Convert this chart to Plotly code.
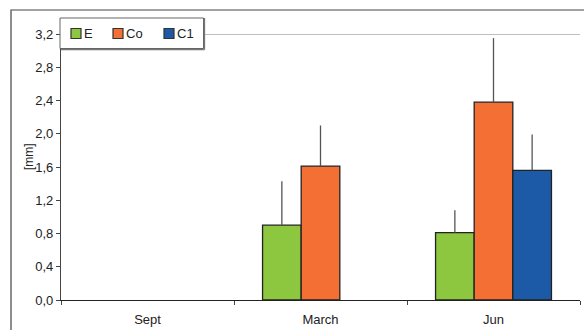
import plotly.graph_objects as go

categories = ["Sept", "March", "Jun"]
series_names = ["E", "Co", "C1"]
values_E = [None, 0.90, 0.81]
values_Co = [None, 1.61, 2.38]
values_C1 = [None, None, 1.56]
err_E = [0, 0.53, 0.27]
err_Co = [0, 0.49, 0.77]
err_C1 = [0, 0, 0.43]
colors = ["#8DC63F", "#F36F34", "#1C5AA7"]
y_ticks = [0.0, 0.4, 0.8, 1.2, 1.6, 2.0, 2.4, 2.8, 3.2]
y_tick_labels = ["0,0", "0,4", "0,8", "1,2", "1,6", "2,0", "2,4", "2,8", "3,2"]

W, H = 584, 330
ML, MR, MT, MB = 61, 4, 34, 30
PW, PH = W - ML - MR, H - MT - MB


def px(x):
    return (x - ML) / PW


def py(y):
    return (H - MB - y) / PH


fig = go.Figure()
for name, vals, errs, col in zip(series_names, [values_E, values_Co, values_C1],
                                 [err_E, err_Co, err_C1], colors):
    fig.add_trace(go.Bar(
        x=categories, y=vals, name=name, showlegend=False,
        marker=dict(color=col, line=dict(color="#222222", width=1.3)),
        error_y=dict(type="data", array=errs, arrayminus=[0]*len(errs), symmetric=False,
                     color="#555555", thickness=1.3, width=0),
    ))

font_family = "Liberation Sans, Arial, sans-serif"
shapes = [
    dict(type="line", xref="paper", yref="y", x0=0, x1=1, y0=3.2, y1=3.2,
         line=dict(color="#AAAAAA", width=1.5), layer="below"),
    dict(type="rect", xref="paper", yref="paper", x0=px(11), x1=px(700),
         y0=py(400), y1=py(10), line=dict(color="#444444", width=1.2)),
    # legend box with subtle shadow
    dict(type="line", xref="paper", yref="paper", x0=px(61), x1=px(204.5),
         y0=py(49.5), y1=py(49.5), line=dict(color="#777777", width=1.3)),
    dict(type="line", xref="paper", yref="paper", x0=px(204.5), x1=px(204.5),
         y0=py(18), y1=py(49.5), line=dict(color="#777777", width=1.3)),
    dict(type="rect", xref="paper", yref="paper", x0=px(60), x1=px(203.5),
         y0=py(48.5), y1=py(18), fillcolor="white",
         line=dict(color="#666666", width=1)),
]
annotations = [
    dict(text="[mm]", xref="paper", yref="paper", x=px(20), y=py(157),
         textangle=-90, showarrow=False, font=dict(size=12)),
]
legend_sq_x = [71, 113, 164]
for name, col, sx in zip(series_names, colors, legend_sq_x):
    shapes.append(dict(type="rect", xref="paper", yref="paper",
                       x0=px(sx), x1=px(sx + 10), y0=py(38.5), y1=py(28.5),
                       fillcolor=col, line=dict(color="#333333", width=1.2)))
    annotations.append(dict(text=name, xref="paper", yref="paper",
                            x=px(sx + 11), y=py(33.5), xanchor="left", yanchor="middle",
                            showarrow=False, font=dict(size=13)))

fig.update_layout(
    width=W, height=H,
    margin=dict(l=ML, r=MR, t=MT, b=MB),
    paper_bgcolor="white", plot_bgcolor="white",
    barmode="group", bargap=0.33, bargroupgap=0,
    font=dict(family=font_family, size=13, color="#222222"),
    showlegend=False,
    xaxis=dict(showline=True, linecolor="#222222", linewidth=1.2,
               ticks="outside", tickson="boundaries", ticklen=4, tickcolor="#444444",
               showgrid=False, tickfont=dict(size=13), ticklabelstandoff=7),
    yaxis=dict(range=[0, 3.2], tickvals=y_ticks, ticktext=y_tick_labels,
               showline=True, linecolor="#444444", linewidth=1.2,
               ticks="outside", ticklen=4, tickcolor="#444444",
               showgrid=False, zeroline=False, tickfont=dict(size=13)),
    shapes=shapes,
    annotations=annotations,
)

fig.write_html("out.html")
